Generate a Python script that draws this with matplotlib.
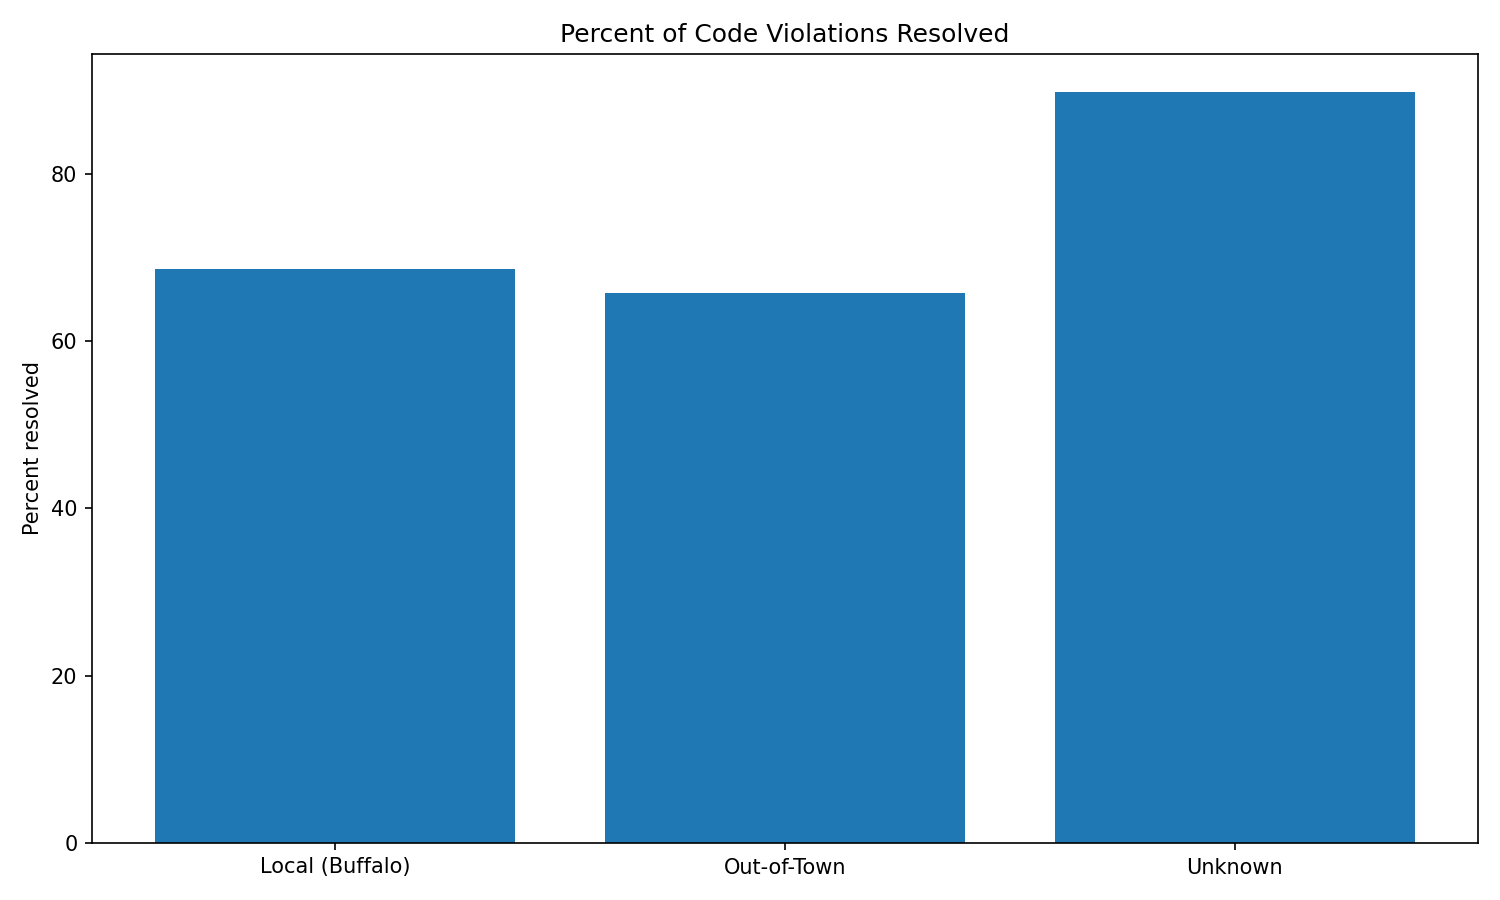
import matplotlib
matplotlib.use("Agg")
import matplotlib.pyplot as plt

categories = ["Local (Buffalo)", "Out-of-Town", "Unknown"]
percent_resolved = [68.6, 65.7, 89.8]

fig, ax = plt.subplots(figsize=(10, 6), dpi=150)

ax.bar(categories, percent_resolved, color="#1f77b4")

ax.set_ylabel("Percent resolved")
ax.set_title("Percent of Code Violations Resolved")

fig.tight_layout()
fig.savefig("out.png", dpi=150)
